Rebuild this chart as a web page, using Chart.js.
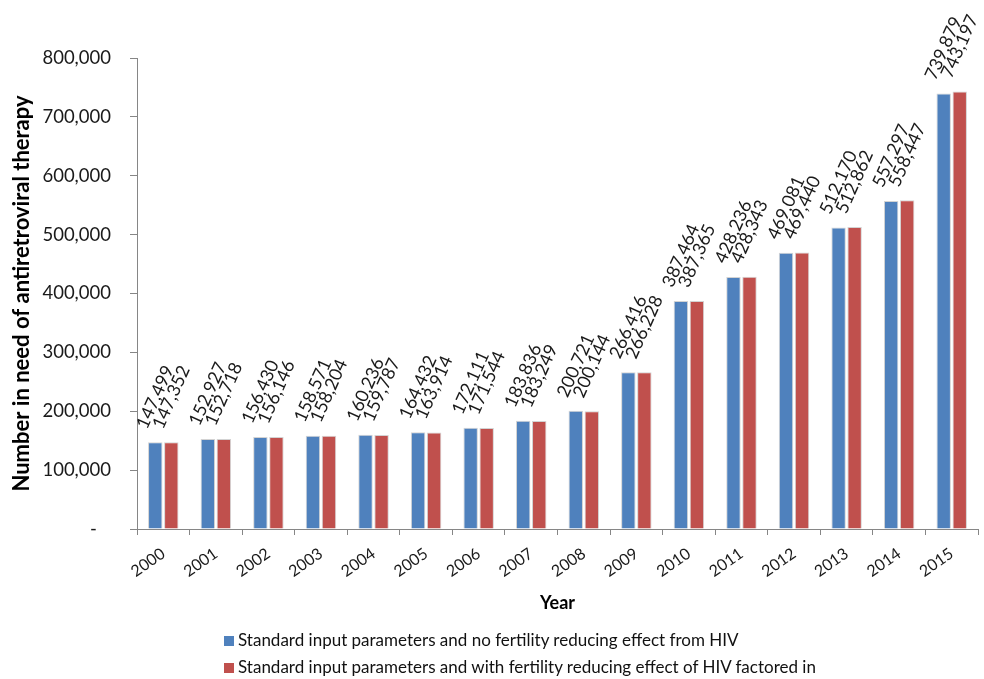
<!DOCTYPE html>
<html>
<head>
    <title>Number in need of antiretroviral therapy</title>
    <script src="https://cdn.jsdelivr.net/npm/chart.js"></script>
    <style>
        body { margin: 0; background: #fff; }
        #wrap { position: relative; width: 984px; height: 679px; }
        #legend { position: absolute; left: 224px; top: 629px; font-family: Lato, sans-serif; font-size: 17px; color: #111; }
        #legend div { height: 27px; line-height: 22px; white-space: nowrap; }
        #legend span.box { display: inline-block; width: 10px; height: 10px; margin-right: 4px; vertical-align: 0px; }
    </style>
</head>
<body>
    <div id="wrap">
        <canvas id="artChart" width="984" height="679"></canvas>
        <div id="legend"></div>
    </div>

    <script>
        // Datos
        const years = ['2000', '2001', '2002', '2003', '2004', '2005', '2006', '2007',
                       '2008', '2009', '2010', '2011', '2012', '2013', '2014', '2015'];
        const noFertilityEffect = [147499, 152927, 156430, 158571, 160236, 164432, 172111, 183836,
                                   200721, 266416, 387464, 428236, 469081, 512170, 557297, 739879];
        const withFertilityEffect = [147352, 152718, 156146, 158204, 159787, 163914, 171544, 183249,
                                     200144, 266228, 387365, 428343, 469440, 512862, 558447, 743197];
        const seriesNames = ['Standard input parameters and no fertility reducing effect from HIV',
                             'Standard input parameters and with fertility reducing effect of HIV factored in'];
        const seriesColors = ['#4F81BD', '#C0504D'];

        const fmt = v => v.toLocaleString('en-US');

        // Etiquetas giradas encima de cada barra
        const barLabels = {
            id: 'barLabels',
            afterDatasetsDraw(chart) {
                const ctx = chart.ctx;
                const ang = 66 * Math.PI / 180;
                ctx.save();
                ctx.font = '18px Lato';
                ctx.fillStyle = '#1a1a1a';
                ctx.textAlign = 'left';
                ctx.textBaseline = 'middle';
                chart.data.datasets.forEach((ds, i) => {
                    chart.getDatasetMeta(i).data.forEach((bar, j) => {
                        const txt = fmt(ds.data[j]);
                        const L = ctx.measureText(txt).width;
                        const h = 13;
                        const H = L * Math.sin(ang) + h * Math.cos(ang);
                        const cy = bar.y - 12 - H / 2;
                        const ox = bar.x - Math.cos(ang) * L / 2;
                        const oy = cy + Math.sin(ang) * L / 2;
                        ctx.save();
                        ctx.translate(ox, oy);
                        ctx.rotate(-ang);
                        ctx.fillText(txt, 0, 0);
                        ctx.restore();
                    });
                });
                ctx.restore();
            }
        };

        const axisGray = '#868686';

        new Chart(document.getElementById('artChart'), {
            type: 'bar',
            data: {
                labels: years,
                datasets: [{
                    label: seriesNames[0],
                    data: noFertilityEffect,
                    backgroundColor: seriesColors[0],
                    borderColor: 'rgba(200,200,200,0.8)',
                    borderWidth: 1
                }, {
                    label: seriesNames[1],
                    data: withFertilityEffect,
                    backgroundColor: seriesColors[1],
                    borderColor: 'rgba(200,200,200,0.8)',
                    borderWidth: 1
                }]
            },
            options: {
                responsive: false,
                animation: false,
                layout: { padding: { left: 0, top: 58, right: 6, bottom: 55 } },
                datasets: { bar: { categoryPercentage: 0.61, barPercentage: 0.9 } },
                plugins: {
                    legend: { display: false },
                    tooltip: { enabled: false }
                },
                scales: {
                    x: {
                        afterFit: s => { s.height = 95; },
                        grid: { offset: true, drawOnChartArea: false, tickLength: 6, color: axisGray },
                        border: { color: axisGray },
                        ticks: { minRotation: 35, maxRotation: 35, padding: 9, color: '#1a1a1a',
                                 font: { family: 'Lato', size: 16 } },
                        title: { display: true, text: 'Year', color: '#000',
                                 font: { family: 'Lato', size: 18, weight: 'bold' },
                                 padding: { top: 0, bottom: 10 } }
                    },
                    y: {
                        min: 0,
                        max: 800000,
                        afterFit: s => { s.width = 137; },
                        grid: { drawOnChartArea: false, tickLength: 7, color: axisGray },
                        border: { color: axisGray },
                        ticks: { stepSize: 100000, padding: 19, color: '#1a1a1a',
                                 font: { family: 'Lato', size: 18.5 },
                                 callback: v => v === 0 ? '-   ' : fmt(v) },
                        title: { display: true, text: 'Number in need of antiretroviral therapy', color: '#000',
                                 font: { family: 'Lato', size: 22, weight: 'bold' },
                                 padding: { top: 9, bottom: 0 } }
                    }
                }
            },
            plugins: [barLabels]
        });

        // Leyenda
        const legend = document.getElementById('legend');
        seriesNames.forEach((name, i) => {
            const row = document.createElement('div');
            row.innerHTML = '<span class="box" style="background:' + seriesColors[i] + '"></span>' + name;
            legend.appendChild(row);
        });
    </script>
</body>
</html>
